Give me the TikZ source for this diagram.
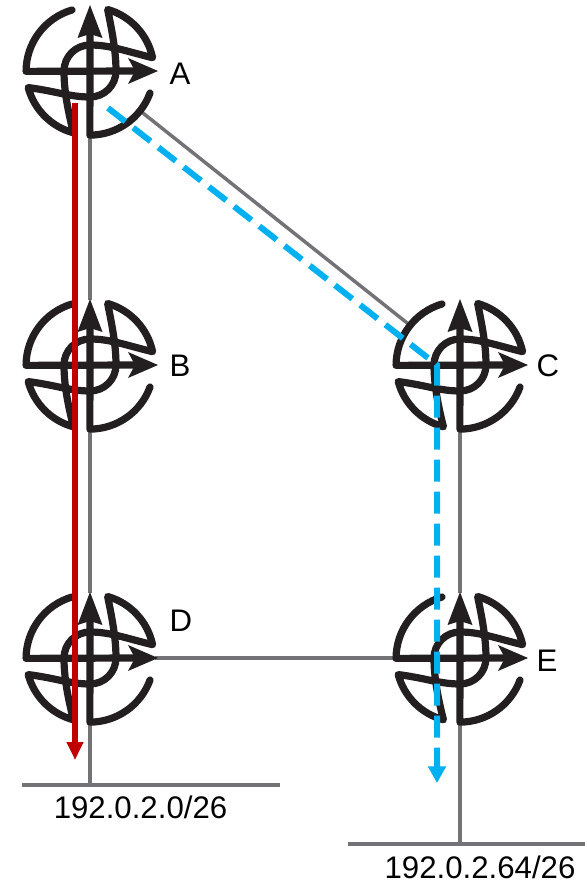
\documentclass[tikz,border=0pt]{standalone}
\usepackage{fontspec}
\setmainfont{Liberation Sans}
\usetikzlibrary{arrows.meta}
\definecolor{ink}{HTML}{231F20}
\definecolor{wire}{HTML}{737276}
\definecolor{redpath}{HTML}{C00000}
\definecolor{bluepath}{HTML}{00B0F0}
\tikzset{
  x=0.75pt,y=-0.75pt,
  router/.style={circle,minimum size=97.5pt,inner sep=0pt,outer sep=0pt},
  link/.style={draw=wire,line width=3pt},
  thinlink/.style={draw=wire,line width=2.6pt},
  bus/.style={draw=wire,line width=3pt},
  lbl/.style={inner sep=0pt,anchor=base,font=\fontsize{23.4pt}{28pt}\selectfont,text=black},
  redarrow/.style={draw=redpath,line width=4.5pt,-{Triangle[length=13.5pt,width=12pt,fill=redpath]}},
  bluearrow/.style={draw=bluepath,line width=4.5pt,dash pattern=on 16.5pt off 7.5pt,-{Triangle[length=12.5pt,width=13pt,fill=bluepath]},shorten >=0pt},
  routericon/.pic={
    \begin{scope}[line width=5.4pt,draw=ink,line cap=round,line join=round]
      \draw (105:64) arc[start angle=105,end angle=165,radius=64]
        .. controls (-35,20) and (-20,26) .. (0,26)
        arc[start angle=90,end angle=0,radius=26]
        .. controls (26,-20) and (22,-40) .. (286:64)
        arc[start angle=286,end angle=348,radius=64]
        .. controls (35,-20) and (20,-26) .. (0,-26)
        arc[start angle=270,end angle=180,radius=26]
        .. controls (-26,20) and (-22,40) .. cycle;
      \draw (-18,-61) arc[start angle=253.6,end angle=180,radius=64] -- (45,0);
      \draw (60,22) arc[start angle=20,end angle=90,radius=64] -- (0,-40);
    \end{scope}
    \fill[ink] (0,-66) -- (12.5,-33) -- (0,-37) -- (-12.5,-33) -- cycle;
    \fill[ink] (68,0) -- (38,13) -- (45,0) -- (38,-13) -- cycle;
  }
}
\begin{document}
\begin{tikzpicture}
\useasboundingbox (0,0) rectangle (585,880);
\node[router] (A) at (90,71) {};
\node[router] (B) at (90,365) {};
\node[router] (C) at (460,365) {};
\node[router] (D) at (90,658) {};
\node[router] (E) at (460,658) {};
\coordinate (busOneL) at (22,785);
\coordinate (busOneR) at (280,785);
\coordinate (busTwoL) at (348,844);
\coordinate (busTwoR) at (585,844);
\draw[link] (A) -- (B);
\draw[link] (B) -- (D);
\draw[link] (C) -- (E);
\draw[thinlink] (A) -- (C);
\draw[thinlink] (D) -- (E);
\draw[link] (D) -- (D |- busOneL);
\draw[link] (E) -- (E |- busTwoL);
\draw[bus] (busOneL) -- (busOneR);
\draw[bus] (busTwoL) -- (busTwoR);
\foreach \n in {A,B,C,D,E} { \pic at (\n) {routericon}; }
\node[lbl] (la) at (180,85) {A};
\node[lbl] (lb) at (180,376) {B};
\node[lbl] (lc) at (548,376) {C};
\node[lbl] (ld) at (181,631) {D};
\node[lbl] (le) at (547,671) {E};
\node[lbl] (netOne) at (140.5,818) {192.0.2.0/26};
\node[lbl] (netTwo) at (480,878) {192.0.2.64/26};
\coordinate (redStart) at (75,103);
\coordinate (redEnd) at (75,760);
\coordinate (blueStart) at (108,108);
\coordinate (blueBend) at (437,365);
\coordinate (blueEnd) at (437,783);
\draw[redarrow] (redStart) -- (redEnd);
\draw[bluearrow] (blueStart) -- (blueBend) -- (blueEnd);
\end{tikzpicture}
\end{document}
